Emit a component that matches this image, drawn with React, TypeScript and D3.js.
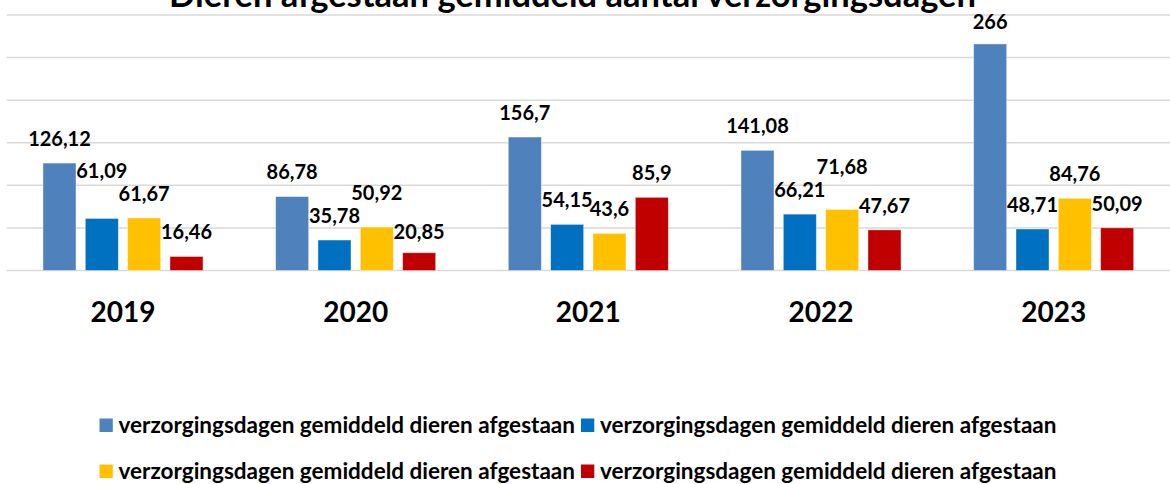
import React from "react";
import * as d3 from "d3";

const title = "Dieren afgestaan gemiddeld aantal verzorgingsdagen";
const years = ["2019", "2020", "2021", "2022", "2023"];
const seriesNames = [
  "verzorgingsdagen gemiddeld dieren afgestaan",
  "verzorgingsdagen gemiddeld dieren afgestaan",
  "verzorgingsdagen gemiddeld dieren afgestaan",
  "verzorgingsdagen gemiddeld dieren afgestaan",
];
const series1 = [126.12, 86.78, 156.7, 141.08, 266];
const series2 = [61.09, 35.78, 54.15, 66.21, 48.71];
const series3 = [61.67, 50.92, 43.6, 71.68, 84.76];
const series4 = [16.46, 20.85, 85.9, 47.67, 50.09];
const yTicks = [0, 50, 100, 150, 200, 250, 300];
const colors = ["#4F81BD", "#0070C0", "#FFC000", "#C00000"];
// manual vertical nudges of a few data labels (as in the original)
const labelNudge1 = [0, 0, 0, 0, 2];
const labelNudge2 = [-23, 0, 0, 0, 0];
const labelNudge3 = [0, -9.5, 0, -18.5, 0];
const labelNudge4 = [0, 4, 0, 0, 0];

const W = 1170;
const H = 484;
const FONT = "Lato, 'Open Sans', sans-serif";

const fmt = (v: number) => String(v).replace(".", ",");

export default function App() {
  const all = [series1, series2, series3, series4];
  const nudges = [labelNudge1, labelNudge2, labelNudge3, labelNudge4];
  const x0 = d3.scaleBand<string>().domain(years).range([6.65, 1170]).padding(0);
  const x1 = d3
    .scaleBand<number>()
    .domain([0, 1, 2, 3])
    .range([0, x0.bandwidth()])
    .paddingInner(0.22)
    .paddingOuter(0.858);
  const y = d3.scaleLinear().domain([0, 300]).range([270.5, 15]);

  const legendCols = [99.5, 581];
  const legendRows = [418.5, 464.5];

  return (
    <div style={{ position: "absolute", left: 0, top: 0 }}>
      <svg width={W} height={H} style={{ display: "block", background: "#fff" }}>
        <rect x={0} y={0} width={W} height={H} fill="#fff" />
        {yTicks.map((t) => (
          <line
            key={t}
            x1={x0.range()[0]}
            x2={x0.range()[1]}
            y1={y(t)}
            y2={y(t)}
            stroke="#d9d9d9"
            strokeWidth={1.5}
          />
        ))}
        <text
          x={572.5}
          y={7}
          textAnchor="middle"
          fontFamily={FONT}
          fontWeight={700}
          fontSize={34.5}
          fill="#000"
        >
          {title}
        </text>
        {years.map((yr, i) => (
          <g key={yr} transform={`translate(${x0(yr)},0)`}>
            {all.map((s, k) => (
              <rect
                key={k}
                x={x1(k)}
                y={y(s[i])}
                width={x1.bandwidth()}
                height={y(0) - y(s[i])}
                fill={colors[k]}
                stroke="#fff"
                strokeOpacity={0.5}
                strokeWidth={0.8}
              />
            ))}
            {all.map((s, k) => (
              <text
                key={"l" + k}
                x={(x1(k) as number) + x1.bandwidth() / 2}
                y={y(s[i]) - 17.3 + nudges[k][i]}
                textAnchor="middle"
                fontFamily={FONT}
                fontWeight={700}
                fontSize={20}
                fill="#000"
              >
                {fmt(s[i])}
              </text>
            ))}
            <text
              x={x0.bandwidth() / 2}
              y={322}
              textAnchor="middle"
              fontFamily={FONT}
              fontWeight={700}
              fontSize={28}
              fill="#000"
            >
              {yr}
            </text>
          </g>
        ))}
        {seriesNames.map((name, k) => {
          const cx = legendCols[k % 2];
          const cy = legendRows[Math.floor(k / 2)];
          return (
            <g key={"lg" + k} transform={`translate(${cx},${cy})`}>
              <rect x={0} y={0} width={13.3} height={13.5} fill={colors[k]} />
              <text
                x={19}
                y={14.5}
                fontFamily={FONT}
                fontWeight={700}
                fontSize={22.5}
                fill="#000"
              >
                {name}
              </text>
            </g>
          );
        })}
      </svg>
    </div>
  );
}
